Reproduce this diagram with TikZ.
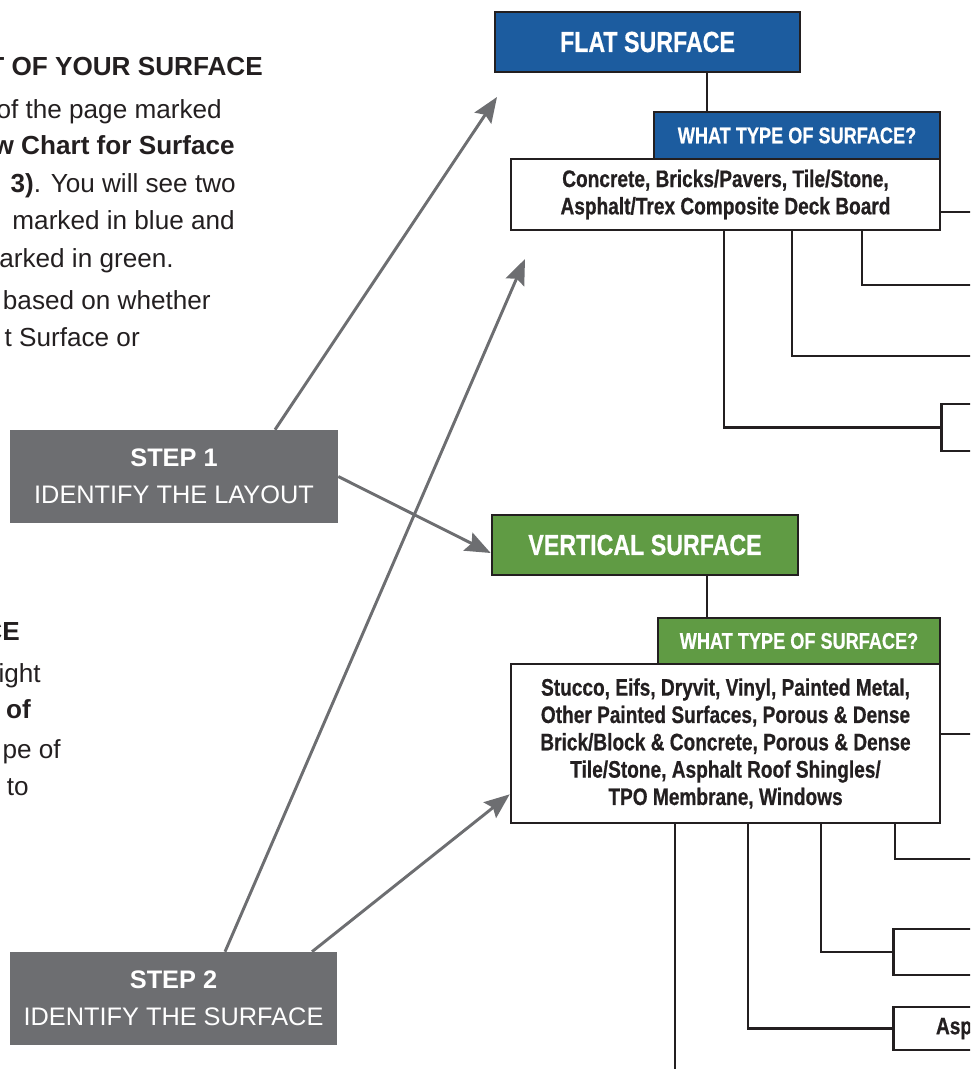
\documentclass[tikz,border=0pt]{standalone}
\usepackage{fontspec}
\setmainfont{Liberation Sans}
\newfontfamily\condfont[FakeStretch=0.8, BoldFeatures={FakeBold=0.6}]{Liberation Sans}
\usetikzlibrary{arrows.meta,positioning}

\definecolor{flatblue}{RGB}{28,92,159}
\definecolor{vertgreen}{RGB}{96,155,68}
\definecolor{stepgray}{RGB}{109,110,113}
\definecolor{linedark}{RGB}{35,31,32}

\tikzset{
  headbox/.style={draw=linedark, line width=2pt, text=white, inner sep=0pt,
    font=\condfont\bfseries\fontsize{21.75}{25}\selectfont},
  tabbox/.style={draw=linedark, line width=2pt, text=white, inner sep=0pt,
    font=\condfont\bfseries\fontsize{17}{20}\selectfont},
  listbox/.style={draw=linedark, fill=white, line width=2pt, text=linedark, inner sep=0pt,
    align=center, font=\condfont\bfseries\fontsize{17.9}{20.5}\selectfont},
  stepbox/.style={fill=stepgray, text=white, inner sep=0pt, align=center,
    font=\fontsize{19}{27.75}\selectfont},
  bodytxt/.style={anchor=base east, inner sep=0pt, text=linedark,
    font=\fontsize{19.6}{27.75}\selectfont},
  conn/.style={draw=linedark, line width=1.9pt},
  pointer/.style={draw=stepgray, line width=2.2pt, -{Stealth[length=19pt,width=15pt,inset=3pt]}}
}

\begin{document}
\begin{tikzpicture}[x=0.75pt,y=-0.75pt]
\useasboundingbox (0,0) rectangle (970,1069);
\clip (0,0) rectangle (970,1069);
\coordinate (edge) at (990,0);
\coordinate (bottom) at (0,1090);

% left column text, cut at the left edge
\node[bodytxt] (t1) at (263,76) {\bfseries T OF YOUR SURFACE};
\node[bodytxt] (t2) at (222,119) {of the page marked};
\node[bodytxt] (t3) at (235,155) {\bfseries w Chart for Surface};
\node[bodytxt] (t4) at (236,193) {{\bfseries 3)}. You will see two};
\node[bodytxt] (t5) at (235,230) {marked in blue and};
\node[bodytxt] (t6) at (174,268) {arked in green.};
\node[bodytxt] (t7) at (211,310) {based on whether};
\node[bodytxt] (t8) at (140,347) {t Surface or};

\node[bodytxt] (s1) at (20,640) {\bfseries CE};
\node[bodytxt] (s2) at (41,682) {ight};
\node[bodytxt] (s3) at (31,718) {\bfseries of};
\node[bodytxt] (s4) at (61,758) {pe of};
\node[bodytxt] (s5) at (29,795) {to};

% flat surface chart
\node[headbox, fill=flatblue, minimum width=228.75pt, minimum height=45pt] (flat) at (647.5,42) {FLAT SURFACE};
\node[tabbox, fill=flatblue, minimum width=214.5pt, minimum height=35.25pt] (flattab) at (797,135.5) {WHAT TYPE OF SURFACE?};
\node[listbox, minimum width=321.75pt, minimum height=53.25pt] (flatbox) at (725.5,194.5)
  {Concrete, Bricks/Pavers, Tile/Stone,\\Asphalt/Trex Composite Deck Board};
\node[listbox, anchor=west, minimum width=150pt, minimum height=35.25pt] (flatend) at (940,427.5) {};

\draw[conn] (flat.south -| 707,0) -- (flattab.north -| 707,0);
\draw[conn] (flatbox.east |- 0,212) -- (edge |- 0,212);
\draw[conn] (flatbox.south -| 862,0) |- (edge |- 0,285);
\draw[conn] (flatbox.south -| 792,0) |- (edge |- 0,356);
\draw[conn] (flatbox.south -| 724,0) |- (flatend.west);

% vertical surface chart
\node[headbox, fill=vertgreen, minimum width=229.5pt, minimum height=45pt] (vert) at (645,545) {VERTICAL SURFACE};
\node[tabbox, fill=vertgreen, minimum width=211.5pt, minimum height=34.5pt] (verttab) at (799,641) {WHAT TYPE OF SURFACE?};
\node[listbox, minimum width=321.75pt, minimum height=119.25pt] (vertbox) at (725.5,743.5)
  {Stucco, Eifs, Dryvit, Vinyl, Painted Metal,\\Other Painted Surfaces, Porous \& Dense\\Brick/Block \& Concrete, Porous \& Dense\\Tile/Stone, Asphalt Roof Shingles/\\TPO Membrane, Windows};
\node[listbox, anchor=west, minimum width=150pt, minimum height=34.5pt] (vertend1) at (892,952) {};
\node[listbox, anchor=west, align=left, text width=100pt, inner xsep=32pt, minimum height=32.25pt] (vertend2) at (892,1028.5) {Asp};

\draw[conn] (vert.south -| 707,0) -- (verttab.north -| 707,0);
\draw[conn] (vertbox.east |- 0,734) -- (edge |- 0,734);
\draw[conn] (vertbox.south -| 895,0) |- (edge |- 0,859);
\draw[conn] (vertbox.south -| 821,0) |- (vertend1.west);
\draw[conn] (vertbox.south -| 748,0) |- (vertend2.west);
\draw[conn] (vertbox.south -| 675,0) -- (bottom -| 675,0);

% steps
\node[stepbox, minimum width=246pt, minimum height=69.75pt] (step1) at (174,476.5) {\bfseries STEP 1\\IDENTIFY THE LAYOUT};
\node[stepbox, minimum width=245.25pt, minimum height=69.75pt] (step2) at (173.5,998.5) {\bfseries STEP 2\\IDENTIFY THE SURFACE};

\coordinate (tip1) at (497,97);
\coordinate (tip3) at (525,259);
\draw[pointer] (step1.north -| 275,0) -- (tip1);
\draw[pointer] (step1.east) -- ([yshift=-6pt]vert.west);
\draw[pointer] (step2.north -| 225,0) -- (tip3);
\draw[pointer] (step2.north -| 312,0) -- ([yshift=22.5pt]vertbox.south west);
\end{tikzpicture}
\end{document}
